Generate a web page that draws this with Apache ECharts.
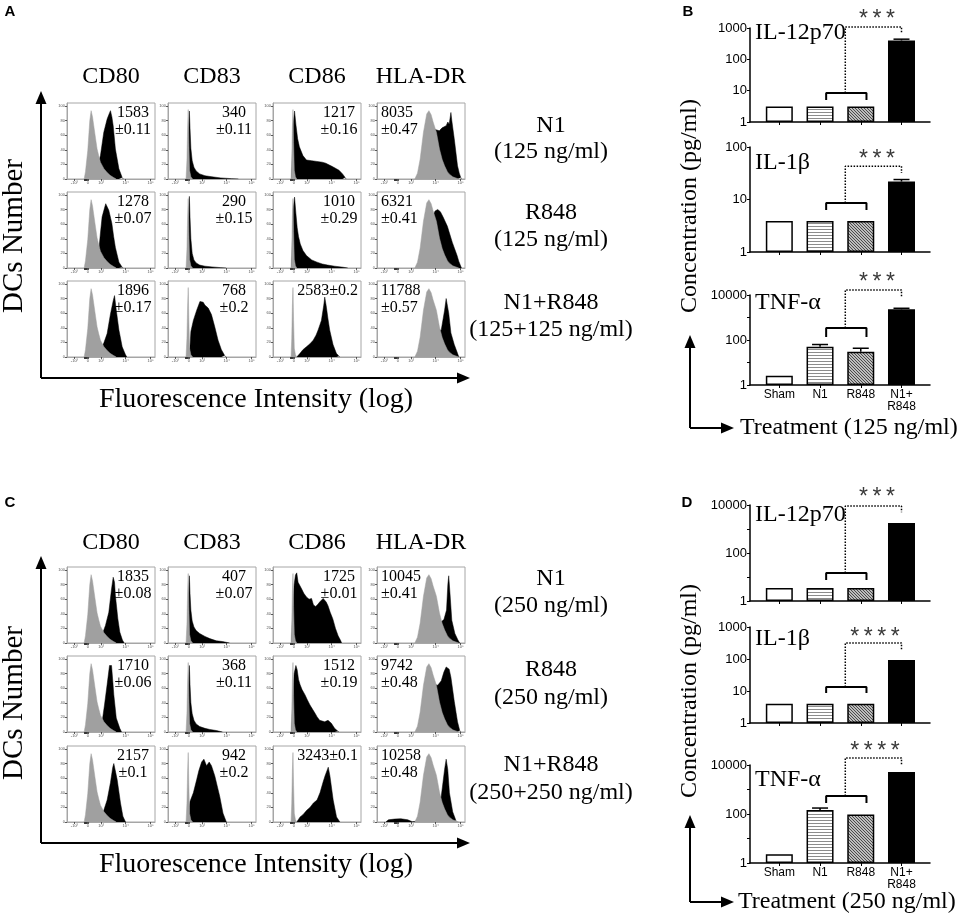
<!DOCTYPE html>
<html><head><meta charset="utf-8">
<script src="https://cdn.jsdelivr.net/npm/echarts@6/dist/echarts.min.js"></script>
<style>html,body{margin:0;padding:0;background:#fff}#c{width:957px;height:921px}</style>
</head><body><div id="c"></div>
<script>
// ---------------- DATA ----------------
const markers = ['CD80', 'CD83', 'CD86', 'HLA-DR'];
const treatLabelsA = [['N1', '(125 ng/ml)'], ['R848', '(125 ng/ml)'], ['N1+R848', '(125+125 ng/ml)']];
const treatLabelsC = [['N1', '(250 ng/ml)'], ['R848', '(250 ng/ml)'], ['N1+R848', '(250+250 ng/ml)']];
const mfiA = [[1583, 340, 1217, 8035], [1278, 290, 1010, 6321], [1896, 768, 2583, 11788]];
const sdA = [['0.11', '0.11', '0.16', '0.47'], ['0.07', '0.15', '0.29', '0.41'], ['0.17', '0.2', '0.2', '0.57']];
const mfiC = [[1835, 407, 1725, 10045], [1710, 368, 1512, 9742], [2157, 942, 3243, 10258]];
const sdC = [['0.08', '0.07', '0.01', '0.41'], ['0.06', '0.11', '0.19', '0.48'], ['0.1', '0.2', '0.1', '0.48']];

// flow axis (biexponential display scale, 0-100 across the plot)
const xTickLabels = ['-10³', '0', '10³', '10⁴', '10⁵'];
const xTickPos = [8.4, 23.6, 38.8, 66.5, 95];
const xMinorTickPos = [19.2, 19.7, 20.2, 20.7, 21.2, 21.7, 22.2, 22.7];
const yTicks = [0, 20, 40, 60, 80, 100];

// isotype (gray) histograms, [position, % of max]
const grayCD80 = [[19.5,0],[21,10],[23.6,39],[25.9,80],[27.4,93.5],[29,85],[30.4,73],[32.5,55],[34.2,41],[36,32],[38,23],[42,14],[45.6,9],[49,5],[53,2],[56,0]];
const grayCD83 = [[20.5,0],[21.5,25],[22.3,70],[23,95],[23.7,50],[24.5,12],[26,3],[28,0]];
const grayCD86 = [[20.5,0],[21.3,25],[22,70],[22.7,95],[23.4,50],[24.2,12],[25.5,3],[27,0]];
const grayHLA = [[43,0],[46,8],[49,27],[52.8,64],[56.5,89],[59,93.5],[61.5,88],[63.8,78],[67.5,64],[71,41],[74,27],[76.8,18],[80,10],[82,7],[86,3],[89.7,1.4],[93,0]];

// stained (black) histograms, panel A (125 ng/ml)
const a_N1 = [
  [[22,0],[30,6],[34,14],[38,32],[41.8,64],[45.6,82],[47.5,88],[49.4,93.5],[51,85],[52.5,73],[55,41],[59,14],[62.7,2],[64,0]],
  [[22,0],[22.8,30],[23.6,75],[24.3,93],[25,70],[26,42],[27.5,25],[29.5,16],[32,11],[36,7],[42,4.5],[50,3],[60,1.5],[72,0.5],[80,0]],
  [[21,0],[22,30],[23,75],[24.5,93],[26,75],[28,55],[30,44],[34,32],[38,26],[44,25],[50,24],[56,23],[60,21.6],[67.5,17],[72,14],[75,12],[79,7],[82,2],[83,0]],
  [[48,0],[52,15],[56,35],[60,52],[63,62],[65.3,68],[68,67],[70.8,66],[74,70],[76,72],[78.6,73],[80.5,78],[82,75],[84,91],[85,80],[87.8,55],[91.5,18],[93.5,8],[95.2,2],[96,0]]
];
const a_R848 = [
  [[22,0],[30,6],[34,14],[36.5,28],[38,48],[39.9,70],[42.6,82],[44,88],[45.6,86],[47.5,79],[51,61],[53,43],[55,28],[59,8],[62.7,1],[64,0]],
  [[22,0],[22.8,30],[23.6,80],[24.3,98],[25,70],[26,40],[27.5,20],[29.5,11],[32,7],[36,4],[42,2.5],[50,1.5],[60,0.5],[66,0]],
  [[21,0],[22,30],[23,80],[24.5,97],[26,75],[27.5,55],[29,43],[31,33],[34,24],[38,17],[44,11],[50,8],[56,5.5],[62,4],[70,2.5],[80,1],[85,0]],
  [[48,0],[52,15],[56,35],[60,55],[63,70],[66,78],[69,80],[72,77],[75,70],[80,57],[85.6,35],[88,27],[91,17],[93,9],[95,3],[96,0]]
];
const a_N1R848 = [
  [[25,0],[32,3],[38,10],[41.8,19],[45.6,32],[49.4,59],[52.5,77],[54,84],[56,64],[59,37],[62.7,14],[66.5,3],[68,0]],
  [[24,0],[25,15],[26,35],[28.8,50],[32.6,64],[36.3,76],[38.2,78],[40,75],[41.9,71],[45.7,67],[49.4,58],[53.2,41],[56.9,23],[60.7,10],[64.4,2],[66,0]],
  [[27,0],[30.7,5],[34,10],[38,14],[42,18],[45.7,23],[49,30],[51.3,37],[55,50],[57.7,71],[58.8,82],[60.7,68],[62.5,52],[64.4,37],[68.2,17],[72,5],[75,1],[76,0]],
  [[50,0],[56,15],[61,30],[66,38],[70,36],[73,37],[76.8,64],[78.6,80],[81.5,60],[84,33],[87.8,17],[91.5,5],[93,0]]
];
// panel C (250 ng/ml)
const c_N1 = [
  [[25,0],[32,3],[38,8],[41,15],[43.7,24],[47.5,42],[50.6,74],[52.5,90],[54,83],[55,65],[57.8,33],[60,15],[63,4],[65,0]],
  [[22,0],[22.8,30],[23.6,75],[24.3,92],[25,68],[26,45],[27.5,30],[29.5,22],[32,17],[36,13],[42,9],[47.5,6],[55,3],[62,2],[70,0]],
  [[21,0],[22.5,40],[24,80],[25.5,93],[27,96],[28.5,83],[32.6,74],[35,68],[38,63],[41,60],[43.8,61],[46,52],[48.5,50],[51,53],[53,56],[55,58],[57,61],[58.8,63],[60.5,56],[62.5,51],[65,42],[68,33],[71,20],[74,10],[77,3],[78,0]],
  [[50,0],[56,10],[62,20],[68,26],[72,28],[76,32],[79,45],[80.5,80],[81.5,92],[83,67],[85,31],[88.5,13],[92,4],[94,0]]
];
const c_R848 = [
  [[25,0],[33,3],[37,7],[39.9,14],[42.6,37],[45.6,65],[48.3,91],[50.6,91],[52,70],[53.2,51],[56,19],[60,5],[62,0]],
  [[22,0],[22.8,30],[23.6,75],[24.3,91],[25,65],[26,40],[27.5,25],[29.5,16],[32,11],[36,7.5],[42,5],[47.5,3.5],[55,2],[62,0]],
  [[21,0],[22.5,40],[24,80],[26,91],[27.5,85],[29,72],[30.7,65],[33,58],[36.3,51],[39,44],[42,37],[45,31],[47.6,26],[50,21],[53,16],[55,14],[58.8,14],[61,15],[62.5,16],[64.5,15],[66.3,12],[70,5],[73.8,1],[75,0]],
  [[48,0],[52,15],[56,35],[60,50],[63,60],[65.7,65],[69,64],[73,70],[76,82],[78.6,89],[80.4,91],[82,86],[84,75],[87.8,42],[91.5,14],[94,2],[95,0]]
];
const c_N1R848 = [
  [[25,0],[33,3],[38,8],[41.8,16],[45.6,30],[49.4,54],[52,75],[53.2,80],[54.4,82],[57,58],[60.8,26],[63.5,8],[66.5,0]],
  [[23.5,0],[24.3,20],[25,28],[28.8,40],[32.6,58],[35,70],[38.2,82],[40.8,86],[43.8,77],[46.8,82],[49.4,77],[53.2,63],[58.8,35],[62.5,12],[66.3,0]],
  [[27,0],[30.8,7],[34,10],[38.3,16],[42,20],[45.9,26],[50,30],[53.4,40],[57,55],[59.1,63],[62.8,75],[64.7,63],[68.4,30],[72.2,7],[76,0]],
  [[10,0],[13,3],[20,4],[27,4.5],[35,3],[40,0.5],[45,1],[50,5],[56,15],[61,28],[66,34],[70,33],[73,35],[76.8,72],[78.6,86],[80.4,72],[82.3,40],[86,14],[89.7,2],[91,0]]
];

// cytokine bar charts (pg/ml)
const treatments = ['Sham', 'N1', 'R848', 'N1+\nR848'];
const il12_125 = [3.1, 3.1, 3.1, 400];
const il12_125_hi = [3.1, 3.1, 3.1, 440];
const il1b_125 = [3.9, 3.9, 3.9, 22];
const il1b_125_hi = [3.9, 3.9, 3.9, 24];
const tnf_125 = [2.6, 50, 30, 2300];
const tnf_125_hi = [2.6, 63, 43, 2570];
const il12_250 = [3.5, 3.5, 3.5, 1780];
const il12_250_hi = [3.5, 3.5, 3.5, 1900];
const il1b_250 = [4, 4, 4, 93];
const il1b_250_hi = [4, 4, 4, 97];
const tnf_250 = [2.3, 146, 95, 5200];
const tnf_250_hi = [2.3, 175, 95, 5500];

// ---------------- BUILD ----------------
const SERIF = '"Liberation Serif", "Times New Roman", serif';
const SANS = '"Liberation Sans", Arial, sans-serif';
const grid = [], xAxis = [], yAxis = [], series = [], graphic = [];

function T(x, y, text, font, o) {
  o = o || {};
  const al = o.align || 'center', va = o.va || 'middle';
  graphic.push({ type: 'text', x: x, y: y, rotation: o.rot || 0, z: 100, silent: true,
    style: { text: text, font: font, fill: o.fill || '#000', textAlign: al, textVerticalAlign: va, align: al, verticalAlign: va } });
}
function L(x1, y1, x2, y2, w) {
  graphic.push({ type: 'line', z: 100, silent: true, shape: { x1, y1, x2, y2 }, style: { stroke: '#000', lineWidth: w || 2 } });
}
function P(pts) {
  graphic.push({ type: 'polygon', z: 100, silent: true, shape: { points: pts }, style: { fill: '#000' } });
}

const CW = 88, CH = 76;
const colLeft = [67, 168, 273, 377];
function nearestIdx(v) { let b = 0; xTickPos.forEach((p, k) => { if (Math.abs(p - v) < Math.abs(xTickPos[b] - v)) b = k; }); return b; }

function addHist(left, top, blk, gry) {
  const i = grid.length;
  grid.push({ left, top, width: CW, height: CH, show: true, borderColor: '#a6a6a6', borderWidth: 1, backgroundColor: '#fff' });
  xAxis.push({ gridIndex: i, type: 'value', min: 0, max: 100,
    axisLine: { show: true, onZero: false, lineStyle: { color: '#a6a6a6', width: 1 } }, splitLine: { show: false },
    axisTick: { show: true, customValues: xTickPos.concat(xMinorTickPos), length: 2, lineStyle: { color: '#333', width: 0.8 } },
    axisLabel: { show: true, customValues: xTickPos, formatter: v => xTickLabels[nearestIdx(v)], fontSize: 4, color: '#555', margin: 2, fontFamily: SANS } });
  yAxis.push({ gridIndex: i, type: 'value', min: 0, max: 104,
    axisLine: { show: true, lineStyle: { color: '#a6a6a6', width: 1 } }, splitLine: { show: false },
    axisTick: { show: true, customValues: yTicks, length: 2, lineStyle: { color: '#333', width: 0.8 } },
    axisLabel: { show: true, customValues: yTicks, fontSize: 4, color: '#555', margin: 2, fontFamily: SANS } });
  series.push({ type: 'line', xAxisIndex: i, yAxisIndex: i, data: blk, symbol: 'none', silent: true, z: 2,
    lineStyle: { color: '#000', width: 0.5 }, areaStyle: { color: '#000', opacity: 1 } });
  series.push({ type: 'line', xAxisIndex: i, yAxisIndex: i, data: gry, symbol: 'none', silent: true, z: 3,
    lineStyle: { color: '#a0a0a0', width: 0.5 }, areaStyle: { color: '#a0a0a0', opacity: 1 } });
}

const grays = [grayCD80, grayCD83, grayCD86, grayHLA];
function flowPanel(rowTops, rowsData, mfi, sd, headerY, arrowTopY, axisY) {
  const F16 = '16px ' + SERIF;
  rowTops.forEach((top, r) => {
    for (let c = 0; c < 4; c++) {
      const left = colLeft[c];
      addHist(left, top, rowsData[r][c], grays[c]);
      const single = (r === 2 && c === 2);
      if (single) T(left + CW - 3, top + 10, mfi[r][c] + '±' + sd[r][c], F16, { align: 'right' });
      else if (c === 3) { T(left + 4, top + 10, String(mfi[r][c]), F16, { align: 'left' }); T(left + 4, top + 27, '±' + sd[r][c], F16, { align: 'left' }); }
      else { T(left + CW - 22, top + 10, String(mfi[r][c]), F16); T(left + CW - 22, top + 27, '±' + sd[r][c], F16); }
    }
  });
  markers.forEach((m, c) => T(colLeft[c] + CW / 2, headerY, m, '24px ' + SERIF));
  // axes arrows
  L(41, axisY, 41, arrowTopY + 10, 2); P([[41, arrowTopY], [35.5, arrowTopY + 13], [46.5, arrowTopY + 13]]);
  L(41, axisY, 460, axisY, 2); P([[470, axisY], [457, axisY - 5.5], [457, axisY + 5.5]]);
}
flowPanel([103, 192, 281], [a_N1, a_R848, a_N1R848], mfiA, sdA, 77, 91, 378);
flowPanel([567, 656, 746], [c_N1, c_R848, c_N1R848], mfiC, sdC, 543, 556, 843);

// treatment labels on the right
const F24 = '24px ' + SERIF;
[[126, 152], [213, 240], [303, 330]].forEach((p, r) => { T(551, p[0], treatLabelsA[r][0], F24); T(551, p[1], treatLabelsA[r][1], F24); });
[[579, 606], [670, 698], [765, 793]].forEach((p, r) => { T(551, p[0], treatLabelsC[r][0], F24); T(551, p[1], treatLabelsC[r][1], F24); });
const FBIG = '29px ' + SERIF;
T(14, 236, 'DCs Number', FBIG, { rot: Math.PI / 2 });
T(14, 703, 'DCs Number', FBIG, { rot: Math.PI / 2 });
T(256, 400, 'Fluorescence Intensity (log)', '28px ' + SERIF);
T(256, 865, 'Fluorescence Intensity (log)', '28px ' + SERIF);

// panel letters
const FB = 'bold 15px ' + SANS;
T(10, 12, 'A', FB); T(688, 12, 'B', FB); T(10, 503, 'C', FB); T(687, 503, 'D', FB);

// ---- bar charts ----
function pattern(kind) {
  const cv = document.createElement('canvas');
  const g = cv.getContext('2d');
  if (kind === 'stripe') {
    cv.width = 4; cv.height = 3; g.fillStyle = '#fff'; g.fillRect(0, 0, 4, 3);
    g.fillStyle = '#8c8c8c'; g.fillRect(0, 1, 4, 1);
  } else {
    cv.width = 3; cv.height = 3; g.fillStyle = '#bdbdbd'; g.fillRect(0, 0, 3, 3);
    g.fillStyle = '#4a4a4a'; for (let k = 0; k < 3; k++) g.fillRect(k, k, 1, 1);
  }
  return { image: cv, repeat: 'repeat' };
}
const barStyles = [
  { color: '#fff', borderColor: '#000', borderWidth: 1.5 },
  { color: pattern('stripe'), borderColor: '#000', borderWidth: 1.5 },
  { color: pattern('hatch'), borderColor: '#000', borderWidth: 1.5 },
  { color: '#000', borderColor: '#000', borderWidth: 1.5 }
];
const STAR_FONT = '23px ' + SANS;
function addBars(cfg) {
  const i = grid.length;
  grid.push({ left: 750, top: cfg.top, width: 180, height: cfg.height, show: false });
  xAxis.push({ gridIndex: i, type: 'value', min: -0.72, max: 3.7,
    axisLine: { show: true, onZero: false, lineStyle: { color: '#000', width: 1.5 } }, splitLine: { show: false },
    axisTick: { show: true, customValues: [0, 1, 2, 3], length: 3, lineStyle: { color: '#000', width: 1 } },
    axisLabel: { show: !!cfg.showX, customValues: [0, 1, 2, 3], formatter: v => treatments[Math.round(v)], fontSize: 12, lineHeight: 12, color: '#000', margin: 4, fontFamily: SANS } });
  yAxis.push({ gridIndex: i, type: 'log', logBase: 10, min: 1, max: cfg.max,
    axisLine: { show: true, onZero: false, lineStyle: { color: '#000', width: 1.5 } }, splitLine: { show: false },
    axisTick: { show: true, length: 3, lineStyle: { color: '#000', width: 1 } },
    axisLabel: { fontSize: 13, color: '#000', margin: 3, fontFamily: SANS,
      formatter: v => { const e = Math.round(Math.log10(v)); if (cfg.every2 && e % 2 === 1) return ''; return String(Math.round(v)); } } });
  series.push({ type: 'bar', xAxisIndex: i, yAxisIndex: i, barWidth: 27, silent: true, z: 3,
    data: cfg.vals.map((v, k) => ({ value: [k, v], itemStyle: barStyles[k] })) });
  series.push({ type: 'custom', xAxisIndex: i, yAxisIndex: i, silent: true, z: 4,
    data: cfg.vals.map((v, k) => [k, v, cfg.hi[k]]),
    renderItem: (params, api) => {
      const x = api.value(0), lo = api.coord([x, api.value(1)]), hp = api.coord([x, api.value(2)]);
      if (hp[1] > lo[1] - 0.8) return null;
      return { type: 'group', children: [
        { type: 'line', shape: { x1: lo[0], y1: lo[1], x2: hp[0], y2: hp[1] }, style: { stroke: '#000', lineWidth: 1.5 } },
        { type: 'line', shape: { x1: hp[0] - 8, y1: hp[1], x2: hp[0] + 8, y2: hp[1] }, style: { stroke: '#000', lineWidth: 1.5 } }] };
    } });
  const b = cfg.br; // significance bracket: [foot, top, dotted top, dotted end] in pg/ml space
  series.push({ type: 'line', xAxisIndex: i, yAxisIndex: i, symbol: 'none', silent: true, clip: false, z: 5,
    data: [[1.15, b[0]], [1.15, b[1]], [2.14, b[1]], [2.14, b[0]]], lineStyle: { color: '#000', width: 2 } });
  series.push({ type: 'line', xAxisIndex: i, yAxisIndex: i, symbol: 'none', silent: true, clip: false, z: 5,
    data: [[1.62, b[1]], [1.62, b[2]], [3.0, b[2]], [3.0, b[3]]], lineStyle: { color: '#000', width: 1.5, type: 'dotted' } });
  T(755, cfg.nameY, cfg.name, '24px ' + SERIF, { align: 'left' });
  T(cfg.starX, cfg.starY + 5, cfg.stars, STAR_FONT, { fill: '#3a3a3a' });
}
const S3 = '*\u2009*\u2009*', S4 = '*\u2009*\u2009*\u2009*';
addBars({ top: 28, height: 94, max: 1000, vals: il12_125, hi: il12_125_hi, br: [5.0, 8.5, 1080, 700], name: 'IL-12p70', nameY: 33, stars: S3, starX: 877, starY: 15 });
addBars({ top: 147, height: 105, max: 100, vals: il1b_125, hi: il1b_125_hi, br: [6.3, 8.6, 43, 32], name: 'IL-1β', nameY: 163, stars: S3, starX: 877, starY: 155 });
addBars({ top: 295, height: 90, max: 10000, every2: true, showX: true, vals: tnf_125, hi: tnf_125_hi, br: [135, 340, 16700, 8100], name: 'TNF-α', nameY: 303, stars: S3, starX: 877, starY: 278 });
addBars({ top: 505, height: 96, max: 10000, every2: true, vals: il12_250, hi: il12_250_hi, br: [7.5, 14.7, 9100, 5000], name: 'IL-12p70', nameY: 515, stars: S3, starX: 877, starY: 493 });
addBars({ top: 627, height: 96, max: 1000, vals: il1b_250, hi: il1b_250_hi, br: [8.7, 13.3, 316, 190], name: 'IL-1β', nameY: 639, stars: S4, starX: 875, starY: 633 });
addBars({ top: 765, height: 98, max: 10000, every2: true, showX: true, vals: tnf_250, hi: tnf_250_hi, br: [280, 540, 19400, 10000], name: 'TNF-α', nameY: 780, stars: S4, starX: 875, starY: 747 });

T(690, 206, 'Concentration (pg/ml)', F24, { rot: Math.PI / 2 });
T(690, 691, 'Concentration (pg/ml)', F24, { rot: Math.PI / 2 });
function lArrow(topY, baseY) {
  L(690, baseY, 690, topY + 10, 2); P([[690, topY], [684.5, topY + 13], [695.5, topY + 13]]);
  L(690, baseY, 724, baseY, 2); P([[734, baseY], [721, baseY - 5.5], [721, baseY + 5.5]]);
}
lArrow(335, 428); lArrow(815, 902);
T(740, 428, 'Treatment (125 ng/ml)', F24, { align: 'left' });
T(738, 902, 'Treatment (250 ng/ml)', F24, { align: 'left' });

const chart = echarts.init(document.getElementById('c'), null, { renderer: 'canvas' });
chart.setOption({ backgroundColor: '#fff', animation: false, grid, xAxis, yAxis, series, graphic });
</script></body></html>
